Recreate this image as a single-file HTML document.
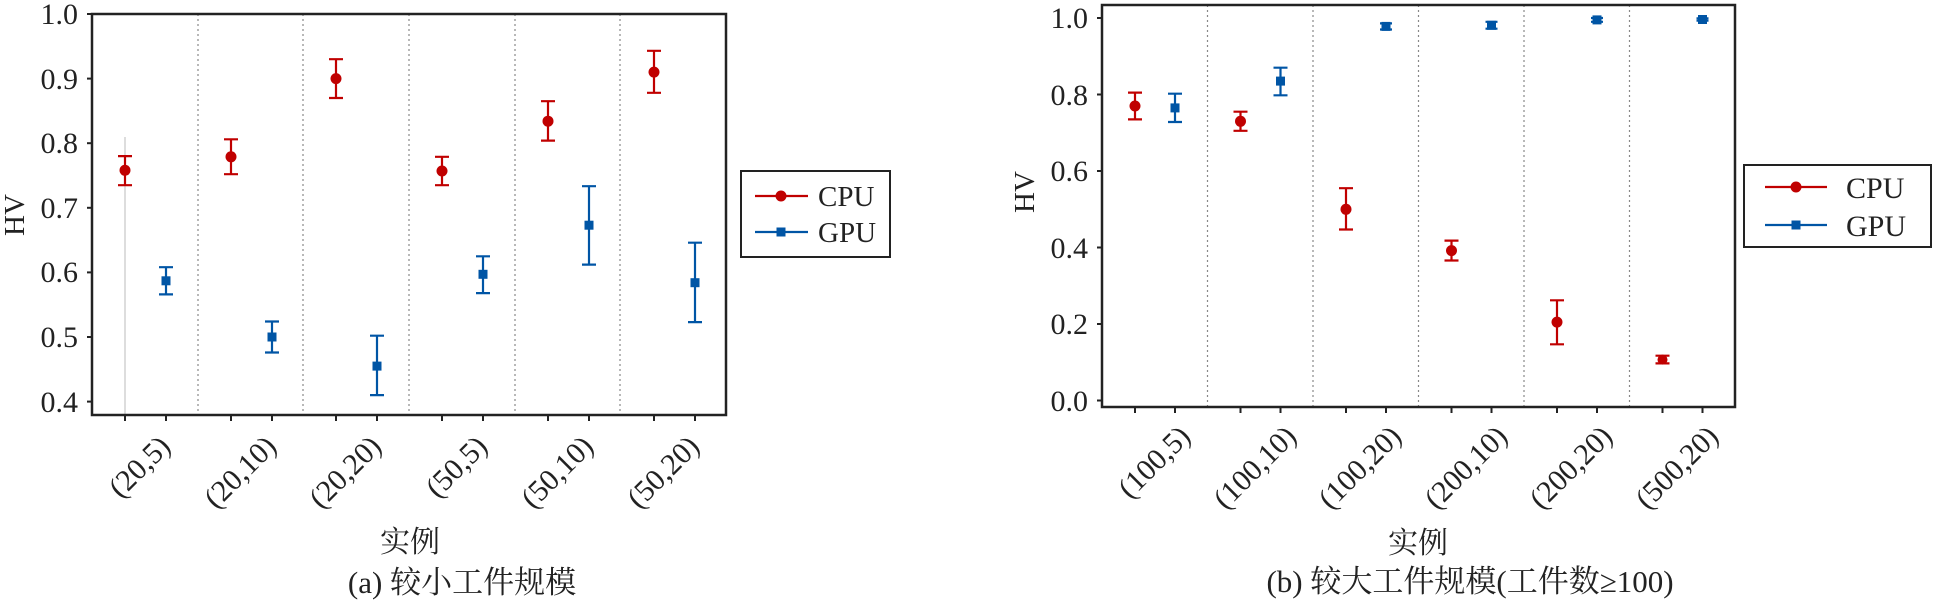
<!DOCTYPE html>
<html><head><meta charset="utf-8"><style>body{margin:0;background:#fff}svg{display:block}</style></head><body>
<svg width="1934" height="600" viewBox="0 0 1934 600" xmlns="http://www.w3.org/2000/svg" font-family="'Liberation Serif','Noto Serif CJK SC',serif" fill="#222">
<!-- LEFT PLOT -->
<line x1="125" y1="137" x2="125" y2="415" stroke="#ddd" stroke-width="2"/>
<g stroke="#888" stroke-width="1.2" stroke-dasharray="2,3">
<line x1="198" y1="14" x2="198" y2="415"/><line x1="303" y1="14" x2="303" y2="415"/><line x1="409" y1="14" x2="409" y2="415"/><line x1="515" y1="14" x2="515" y2="415"/><line x1="620" y1="14" x2="620" y2="415"/>
</g>
<rect x="92" y="14" width="634" height="401" fill="none" stroke="#222" stroke-width="2.5"/>
<g stroke="#222" stroke-width="2">
<line x1="87" y1="14" x2="92" y2="14"/><line x1="87" y1="78.6" x2="92" y2="78.6"/><line x1="87" y1="143.2" x2="92" y2="143.2"/><line x1="87" y1="207.8" x2="92" y2="207.8"/><line x1="87" y1="272.4" x2="92" y2="272.4"/><line x1="87" y1="337" x2="92" y2="337"/><line x1="87" y1="401.6" x2="92" y2="401.6"/>
<line x1="125" y1="415" x2="125" y2="421"/><line x1="166" y1="415" x2="166" y2="421"/><line x1="231" y1="415" x2="231" y2="421"/><line x1="272" y1="415" x2="272" y2="421"/><line x1="336" y1="415" x2="336" y2="421"/><line x1="377" y1="415" x2="377" y2="421"/><line x1="442" y1="415" x2="442" y2="421"/><line x1="483" y1="415" x2="483" y2="421"/><line x1="548" y1="415" x2="548" y2="421"/><line x1="589" y1="415" x2="589" y2="421"/><line x1="654" y1="415" x2="654" y2="421"/><line x1="695" y1="415" x2="695" y2="421"/>
</g>
<g font-size="30" text-anchor="end">
<text x="78" y="24">1.0</text><text x="78" y="89">0.9</text><text x="78" y="153">0.8</text><text x="78" y="218">0.7</text><text x="78" y="282">0.6</text><text x="78" y="347">0.5</text><text x="78" y="412">0.4</text>
</g>
<text transform="translate(24,215) rotate(-90)" font-size="29" text-anchor="middle">HV</text>
<g stroke="#c00000" stroke-width="2.2" fill="#c00000">
<path d="M125 156.1V185.2M118 156.1H132M118 185.2H132"/><circle cx="125" cy="170.3" r="5.5" stroke="none"/>
<path d="M231 139.3V174.2M224 139.3H238M224 174.2H238"/><circle cx="231" cy="156.8" r="5.5" stroke="none"/>
<path d="M336 59.2V98M329 59.2H343M329 98H343"/><circle cx="336" cy="78.6" r="5.5" stroke="none"/>
<path d="M442 156.8V185.2M435 156.8H449M435 185.2H449"/><circle cx="442" cy="171" r="5.5" stroke="none"/>
<path d="M548 101.2V140.6M541 101.2H555M541 140.6H555"/><circle cx="548" cy="121.2" r="5.5" stroke="none"/>
<path d="M654 50.8V92.8M647 50.8H661M647 92.8H661"/><circle cx="654" cy="72.1" r="5.5" stroke="none"/>
</g>
<g stroke="#0055a5" stroke-width="2.2" fill="#0055a5">
<path d="M166 267.2V294.4M159 267.2H173M159 294.4H173"/><rect x="161.5" y="276.3" width="9" height="9" stroke="none"/>
<path d="M272 321.5V352.5M265 321.5H279M265 352.5H279"/><rect x="267.5" y="332.5" width="9" height="9" stroke="none"/>
<path d="M377 335.7V395.1M370 335.7H384M370 395.1H384"/><rect x="372.5" y="361.6" width="9" height="9" stroke="none"/>
<path d="M483 256.3V293.1M476 256.3H490M476 293.1H490"/><rect x="478.5" y="269.8" width="9" height="9" stroke="none"/>
<path d="M589 186.2V264.6M582 186.2H596M582 264.6H596"/><rect x="584.5" y="220.7" width="9" height="9" stroke="none"/>
<path d="M695 242.7V322.1M688 242.7H702M688 322.1H702"/><rect x="690.5" y="278.2" width="9" height="9" stroke="none"/>
</g>
<g font-size="30" text-anchor="end">
<text transform="translate(172,448) rotate(-45)">(20,5)</text>
<text transform="translate(278,448) rotate(-45)">(20,10)</text>
<text transform="translate(383,448) rotate(-45)">(20,20)</text>
<text transform="translate(489,448) rotate(-45)">(50,5)</text>
<text transform="translate(595,448) rotate(-45)">(50,10)</text>
<text transform="translate(701,448) rotate(-45)">(50,20)</text>
</g>
<text x="410" y="552" font-size="30" text-anchor="middle">实例</text>
<text x="462" y="593" font-size="31" text-anchor="middle">(a) 较小工件规模</text>
<rect x="741" y="171" width="149" height="86" fill="#fff" stroke="#222" stroke-width="2"/>
<line x1="755" y1="196" x2="808" y2="196" stroke="#c00000" stroke-width="2.2"/><circle cx="781" cy="196" r="5.5" fill="#c00000"/>
<line x1="755" y1="232" x2="808" y2="232" stroke="#0055a5" stroke-width="2.2"/><rect x="776.5" y="227.5" width="9" height="9" fill="#0055a5"/>
<text x="818" y="206" font-size="29">CPU</text><text x="818" y="242" font-size="29">GPU</text>

<!-- RIGHT PLOT -->
<g stroke="#888" stroke-width="1.2" stroke-dasharray="2,3">
<line x1="1207.5" y1="5" x2="1207.5" y2="407"/><line x1="1313" y1="5" x2="1313" y2="407"/><line x1="1418.5" y1="5" x2="1418.5" y2="407"/><line x1="1524" y1="5" x2="1524" y2="407"/><line x1="1629.5" y1="5" x2="1629.5" y2="407"/>
</g>
<rect x="1102" y="5" width="633" height="402" fill="none" stroke="#222" stroke-width="2.5"/>
<g stroke="#222" stroke-width="2">
<line x1="1097" y1="18" x2="1102" y2="18"/><line x1="1097" y1="94.5" x2="1102" y2="94.5"/><line x1="1097" y1="171" x2="1102" y2="171"/><line x1="1097" y1="247.5" x2="1102" y2="247.5"/><line x1="1097" y1="324" x2="1102" y2="324"/><line x1="1097" y1="400.5" x2="1102" y2="400.5"/>
<line x1="1135" y1="407" x2="1135" y2="413"/><line x1="1175" y1="407" x2="1175" y2="413"/><line x1="1240.5" y1="407" x2="1240.5" y2="413"/><line x1="1280.5" y1="407" x2="1280.5" y2="413"/><line x1="1346" y1="407" x2="1346" y2="413"/><line x1="1386" y1="407" x2="1386" y2="413"/><line x1="1451.5" y1="407" x2="1451.5" y2="413"/><line x1="1491.5" y1="407" x2="1491.5" y2="413"/><line x1="1557" y1="407" x2="1557" y2="413"/><line x1="1597" y1="407" x2="1597" y2="413"/><line x1="1662.5" y1="407" x2="1662.5" y2="413"/><line x1="1702.5" y1="407" x2="1702.5" y2="413"/>
</g>
<g font-size="30" text-anchor="end">
<text x="1088" y="28">1.0</text><text x="1088" y="105">0.8</text><text x="1088" y="181">0.6</text><text x="1088" y="258">0.4</text><text x="1088" y="334">0.2</text><text x="1088" y="411">0.0</text>
</g>
<text transform="translate(1034,192) rotate(-90)" font-size="29" text-anchor="middle">HV</text>
<g stroke="#c00000" stroke-width="2.2" fill="#c00000">
<path d="M1135 92.6V119.4M1128 92.6H1142M1128 119.4H1142"/><circle cx="1135" cy="106" r="5.5" stroke="none"/>
<path d="M1240.5 111.7V130.8M1233.5 111.7H1247.5M1233.5 130.8H1247.5"/><circle cx="1240.5" cy="121.3" r="5.5" stroke="none"/>
<path d="M1346 188.2V229.5M1339 188.2H1353M1339 229.5H1353"/><circle cx="1346" cy="209.3" r="5.5" stroke="none"/>
<path d="M1451.5 240.6V260.5M1444.5 240.6H1458.5M1444.5 260.5H1458.5"/><circle cx="1451.5" cy="250.6" r="5.5" stroke="none"/>
<path d="M1557 300.3V344.3M1550 300.3H1564M1550 344.3H1564"/><circle cx="1557" cy="322.1" r="5.5" stroke="none"/>
<path d="M1662.5 355.7V363.4M1655.5 355.7H1669.5M1655.5 363.4H1669.5"/><circle cx="1662.5" cy="359.6" r="5" stroke="none"/>
</g>
<g stroke="#0055a5" stroke-width="2.2" fill="#0055a5">
<path d="M1175 93.7V122M1168 93.7H1182M1168 122H1182"/><rect x="1170.5" y="103.4" width="9" height="9" stroke="none"/>
<path d="M1280.5 67.7V95.3M1273.5 67.7H1287.5M1273.5 95.3H1287.5"/><rect x="1276" y="76.6" width="9" height="9" stroke="none"/>
<path d="M1386 23.4V29.5M1380 23.4H1392M1380 29.5H1392"/><rect x="1381.5" y="21.9" width="9" height="9" stroke="none"/>
<path d="M1491.5 21.8V28.7M1485.5 21.8H1497.5M1485.5 28.7H1497.5"/><rect x="1487" y="20.8" width="9" height="9" stroke="none"/>
<path d="M1597 18V21.8M1591 18H1603M1591 21.8H1603"/><rect x="1592.5" y="15.4" width="9" height="9" stroke="none"/>
<path d="M1702.5 18.4V20.7M1696.5 18.4H1708.5M1696.5 20.7H1708.5"/><rect x="1698" y="15" width="9" height="9" stroke="none"/>
</g>
<g font-size="30" text-anchor="end">
<text transform="translate(1192,438) rotate(-45)">(100,5)</text>
<text transform="translate(1298,438) rotate(-45)">(100,10)</text>
<text transform="translate(1403,438) rotate(-45)">(100,20)</text>
<text transform="translate(1509,438) rotate(-45)">(200,10)</text>
<text transform="translate(1614,438) rotate(-45)">(200,20)</text>
<text transform="translate(1720,438) rotate(-45)">(500,20)</text>
</g>
<text x="1418" y="553" font-size="30" text-anchor="middle">实例</text>
<text x="1470" y="592" font-size="31" text-anchor="middle">(b) 较大工件规模(工件数≥100)</text>
<rect x="1744" y="165" width="187" height="82" fill="#fff" stroke="#222" stroke-width="2"/>
<line x1="1765" y1="187" x2="1827" y2="187" stroke="#c00000" stroke-width="2.2"/><circle cx="1796" cy="187" r="5.5" fill="#c00000"/>
<line x1="1765" y1="225" x2="1827" y2="225" stroke="#0055a5" stroke-width="2.2"/><rect x="1791.5" y="220.5" width="9" height="9" fill="#0055a5"/>
<text x="1846" y="198" font-size="30">CPU</text><text x="1846" y="236" font-size="30">GPU</text>
</svg>
</body></html>
